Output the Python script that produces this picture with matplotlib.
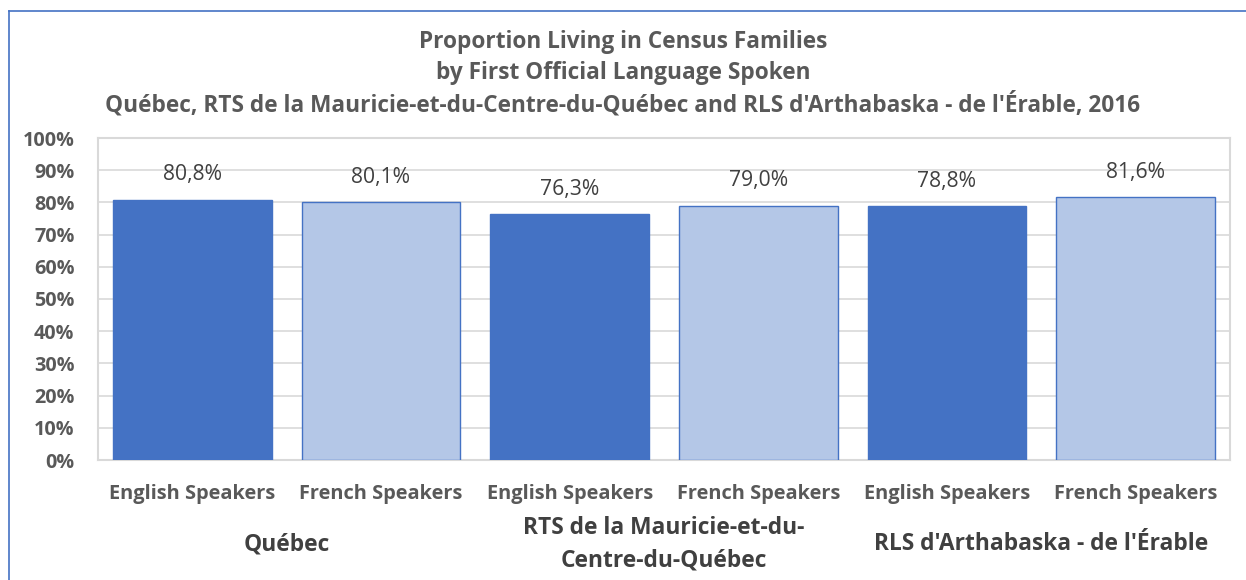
import matplotlib
matplotlib.use("Agg")
import matplotlib.pyplot as plt
from matplotlib.lines import Line2D
import matplotlib.transforms as mtransforms

# ── Data ──────────────────────────────────────────────────────────────────────
categories = ["English Speakers", "French Speakers"] * 3
groups = ["Québec", "RTS de la Mauricie-et-du-\nCentre-du-Québec",
          "RLS d'Arthabaska - de l'Érable"]
values = [80.8, 80.1, 76.3, 79.0, 78.8, 81.6]
yticks = [0, 10, 20, 30, 40, 50, 60, 70, 80, 90, 100]

title = ("Proportion Living in Census Families\n"
         "by First Official Language Spoken\n"
         "Québec, RTS de la Mauricie-et-du-Centre-du-Québec and "
         "RLS d'Arthabaska - de l'Érable, 2016")

DARK = "#4472C4"
LIGHT = "#B4C7E7"
GRID = "#D9D9D9"
TXT = "#595959"
TXT2 = "#404040"

plt.rcParams["font.family"] = ["Open Sans", "DejaVu Sans"]

fig = plt.figure(figsize=(12.46, 5.80), dpi=100)
ax = fig.add_axes([98 / 1246, 120 / 580, 1132 / 1246, 322 / 580])

x = list(range(len(values)))
fills = [DARK if i % 2 == 0 else LIGHT for i in x]
bars = ax.bar(x, values, width=0.84, color=fills, edgecolor=DARK,
              linewidth=1.0, zorder=3)

for xi, v in zip(x, values):
    ax.annotate(f"{v:.1f}%".replace(".", ","), (xi, v), xytext=(0, 18),
                textcoords="offset points", ha="center", va="center",
                fontsize=15.2, color=TXT2)

ax.set_xlim(-0.5, len(values) - 0.5)
ax.set_ylim(0, 100)
ax.set_yticks(yticks)
ax.set_yticklabels([f"{t}%" for t in yticks], fontsize=14.2,
                   fontweight="bold", color=TXT)
ax.set_xticks(x)
ax.set_xticklabels(categories, fontsize=14.4, fontweight="bold",
                   color=TXT)
ax.tick_params(axis="both", length=0)
ax.tick_params(axis="x", pad=17)
ax.tick_params(axis="y", pad=17)
ax.grid(axis="y", color=GRID, linewidth=1.2, zorder=0)
for s in ax.spines.values():
    s.set_color(GRID)
    s.set_linewidth(1.5)

trans = mtransforms.blended_transform_factory(ax.transData, ax.transAxes)
for gi, g in enumerate(groups):
    ax.text(2 * gi + 0.5, -0.262, g, transform=trans, ha="center",
            va="center", fontsize=16.4, fontweight="bold", color=TXT2,
            linespacing=1.5)

fig.text(0.5, 1 - 74 / 580, title, ha="center", va="center", fontsize=16.3,
         fontweight="bold", color=TXT, linespacing=1.38)

# chart frame (left and top edges visible)
fig.add_artist(Line2D([9 / 1246, 9 / 1246], [0, 1 - 11 / 580],
                      transform=fig.transFigure, color=DARK, linewidth=1.2))
fig.add_artist(Line2D([9 / 1246, 1], [1 - 11 / 580, 1 - 11 / 580],
                      transform=fig.transFigure, color=DARK, linewidth=1.2))

fig.savefig("out.png", dpi=100)
